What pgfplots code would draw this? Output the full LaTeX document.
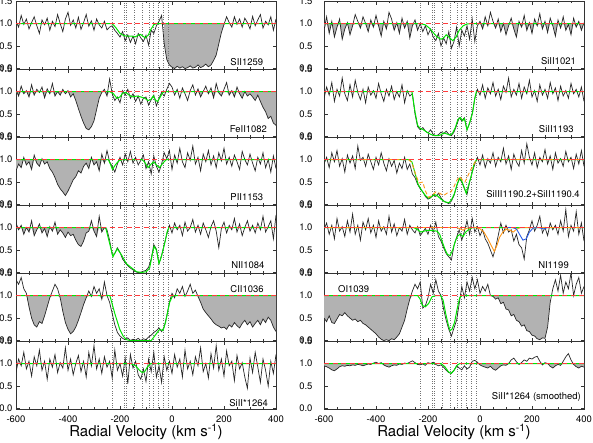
\documentclass[border=0pt]{standalone}
\usepackage{fontspec}
\setmainfont{TeX Gyre Heros}
\usepackage{pgfplots}
\pgfplotsset{compat=1.18}
\usepackage{pgfplotstable}
\usepgfplotslibrary{groupplots}
\usetikzlibrary{calc}

\definecolor{fitgreen}{RGB}{0,230,0}
\definecolor{contred}{RGB}{255,60,60}
\definecolor{fitorange}{RGB}{255,150,20}
\definecolor{fitblue}{RGB}{40,90,230}

% ---- left column spectra (velocity, normalised flux)
\pgfplotstableread[row sep=\\]{v f\\
-600 1.05\\-590 0.92\\-580 1.18\\-570 0.98\\-560 1.10\\-550 0.88\\-540 1.02\\-530 1.15\\-520 0.95\\-510 0.78\\
-500 1.08\\-490 0.97\\-480 1.12\\-470 0.85\\-460 1.05\\-450 0.93\\-440 1.20\\-430 1.00\\-420 0.82\\-410 1.10\\
-400 1.25\\-390 0.96\\-380 1.08\\-370 0.90\\-360 1.14\\-350 0.87\\-340 1.02\\-330 1.20\\-320 0.94\\-310 1.06\\
-300 0.85\\-290 1.10\\-280 0.97\\-270 0.90\\-260 1.05\\-250 0.86\\-240 0.92\\-230 0.95\\-220 0.85\\-210 0.78\\
-200 0.70\\-190 0.82\\-180 0.62\\-170 0.75\\-160 0.58\\-150 0.72\\-140 0.55\\-130 0.78\\-120 0.68\\-110 0.60\\
-100 0.74\\-90 0.52\\-80 0.85\\-70 0.78\\-60 0.95\\-50 1.05\\-40 1.18\\-30 0.55\\-20 0.20\\-10 0.08\\
0 0.03\\10 0.00\\20 0.05\\30 0.01\\40 0.04\\50 0.00\\60 0.02\\70 0.06\\80 0.01\\90 0.03\\
100 0.08\\110 0.02\\120 0.05\\130 0.10\\140 0.04\\150 0.08\\160 0.18\\170 0.30\\180 0.55\\190 0.80\\
200 0.98\\210 1.15\\220 1.02\\230 0.92\\240 1.15\\250 0.98\\260 1.10\\270 0.92\\280 1.12\\290 1.02\\
300 0.88\\310 1.16\\320 0.95\\330 1.08\\340 1.20\\350 0.90\\360 1.05\\370 0.97\\380 1.15\\390 0.85\\400 1.10\\
}\tLa
\pgfplotstableread[row sep=\\]{v f\\
-600 1.05\\-590 0.90\\-580 1.12\\-570 0.95\\-560 1.02\\-550 0.88\\-540 1.15\\-530 0.92\\-520 1.05\\-510 0.98\\
-500 1.10\\-490 0.86\\-480 1.06\\-470 0.95\\-460 1.18\\-450 0.90\\-440 1.00\\-430 0.92\\-420 1.05\\-410 0.95\\
-400 1.02\\-390 0.88\\-380 0.95\\-370 0.80\\-360 0.62\\-350 0.45\\-340 0.30\\-330 0.18\\-320 0.15\\-310 0.22\\
-300 0.35\\-290 0.60\\-280 0.85\\-270 0.98\\-260 1.05\\-250 0.90\\-240 1.28\\-230 0.95\\-220 0.80\\-210 0.88\\
-200 0.75\\-190 1.02\\-180 0.92\\-170 1.05\\-160 0.85\\-150 0.95\\-140 0.78\\-130 0.90\\-120 0.72\\-110 0.85\\
-100 0.88\\-90 0.70\\-80 0.82\\-70 0.92\\-60 0.68\\-50 0.85\\-40 0.98\\-30 0.90\\-20 1.05\\-10 1.18\\
0 1.10\\10 0.92\\20 1.05\\30 0.85\\40 1.08\\50 0.95\\60 0.80\\70 1.02\\80 1.15\\90 0.92\\
100 1.06\\110 0.88\\120 1.00\\130 1.12\\140 0.95\\150 1.08\\160 0.86\\170 1.18\\180 0.97\\190 0.90\\
200 1.05\\210 1.20\\220 0.92\\230 1.02\\240 0.88\\250 1.10\\260 0.95\\270 0.85\\280 1.00\\290 0.90\\
300 0.95\\310 0.88\\320 0.80\\330 0.92\\340 0.78\\350 0.65\\360 0.55\\370 0.40\\380 0.45\\390 0.30\\400 0.25\\
}\tLb
\pgfplotstableread[row sep=\\]{v f\\
-600 0.75\\-590 0.90\\-580 0.82\\-570 1.05\\-560 0.88\\-550 0.95\\-540 0.78\\-530 1.10\\-520 0.92\\-510 0.85\\
-500 1.02\\-490 0.90\\-480 0.95\\-470 0.80\\-460 0.72\\-450 0.60\\-440 0.45\\-430 0.35\\-420 0.28\\-410 0.20\\
-400 0.30\\-390 0.42\\-380 0.55\\-370 0.62\\-360 0.75\\-350 0.70\\-340 0.85\\-330 0.92\\-320 0.80\\-310 1.05\\
-300 0.88\\-290 0.95\\-280 0.75\\-270 1.12\\-260 0.92\\-250 1.20\\-240 0.95\\-230 0.85\\-220 0.72\\-210 0.90\\
-200 1.05\\-190 0.88\\-180 1.12\\-170 0.95\\-160 1.18\\-150 0.92\\-140 1.05\\-130 0.88\\-120 0.98\\-110 1.10\\
-100 0.80\\-90 0.95\\-80 0.68\\-70 1.08\\-60 0.85\\-50 0.72\\-40 0.90\\-30 1.15\\-20 1.02\\-10 1.20\\
0 0.78\\10 1.10\\20 0.92\\30 1.25\\40 0.95\\50 0.82\\60 1.15\\70 0.98\\80 1.30\\90 0.90\\
100 1.05\\110 0.75\\120 1.12\\130 0.95\\140 1.20\\150 0.88\\160 1.08\\170 0.82\\180 1.15\\190 0.97\\
200 1.25\\210 0.90\\220 1.05\\230 0.85\\240 1.10\\250 0.95\\260 0.78\\270 1.18\\280 1.00\\290 0.88\\
300 1.12\\310 0.92\\320 0.75\\330 1.05\\340 0.90\\350 1.15\\360 0.82\\370 1.00\\380 0.72\\390 1.08\\400 0.80\\
}\tLc
\pgfplotstableread[row sep=\\]{v f\\
-600 1.10\\-590 0.95\\-580 1.05\\-570 0.85\\-560 1.00\\-550 0.90\\-540 1.15\\-530 0.82\\-520 0.95\\-510 1.08\\
-500 0.88\\-490 0.98\\-480 0.80\\-470 1.02\\-460 0.92\\-450 1.12\\-440 0.85\\-430 0.95\\-420 0.88\\-410 0.78\\
-400 0.90\\-390 0.82\\-380 0.85\\-370 0.72\\-360 0.62\\-350 0.58\\-340 0.70\\-330 0.88\\-320 0.92\\-310 1.15\\
-300 0.92\\-290 0.80\\-280 1.25\\-270 0.90\\-260 1.00\\-250 0.95\\-240 0.72\\-230 0.40\\-220 0.42\\-210 0.55\\
-200 0.45\\-190 0.30\\-180 0.22\\-170 0.15\\-160 0.10\\-150 0.06\\-140 0.02\\-130 0.00\\-120 0.01\\-110 0.03\\
-100 0.05\\-90 0.12\\-80 0.30\\-70 0.62\\-60 0.52\\-50 0.20\\-40 0.38\\-30 0.62\\-20 0.85\\-10 1.05\\
0 0.88\\10 1.10\\20 0.95\\30 1.05\\40 0.82\\50 1.12\\60 0.92\\70 1.00\\80 1.18\\90 0.90\\
100 1.05\\110 0.85\\120 1.10\\130 0.95\\140 0.78\\150 1.02\\160 1.15\\170 0.92\\180 0.55\\190 0.98\\
200 1.12\\210 0.88\\220 1.05\\230 0.95\\240 1.20\\250 0.90\\260 1.08\\270 0.82\\280 1.00\\290 1.15\\
300 0.92\\310 1.05\\320 0.88\\330 1.10\\340 0.95\\350 1.25\\360 0.90\\370 1.02\\380 1.15\\390 0.75\\400 1.28\\
}\tLd
\pgfplotstableread[row sep=\\]{v f\\
-600 1.35\\-590 1.25\\-580 1.40\\-570 1.15\\-560 1.05\\-550 0.75\\-540 0.50\\-530 0.35\\-520 0.30\\-510 0.42\\
-500 0.38\\-490 0.55\\-480 0.75\\-470 0.95\\-460 1.10\\-450 1.25\\-440 1.15\\-430 0.95\\-420 0.65\\-410 0.40\\
-400 0.25\\-390 0.15\\-380 0.20\\-370 0.30\\-360 0.45\\-350 0.62\\-340 0.80\\-330 0.95\\-320 1.10\\-310 0.98\\
-300 1.20\\-290 1.05\\-280 1.15\\-270 0.92\\-260 1.30\\-250 1.00\\-240 0.85\\-230 0.60\\-220 0.35\\-210 0.18\\
-200 0.10\\-190 0.05\\-180 0.02\\-170 0.06\\-160 0.00\\-150 0.03\\-140 0.01\\-130 0.05\\-120 0.00\\-110 0.04\\
-100 0.02\\-90 0.08\\-80 0.12\\-70 0.18\\-60 0.22\\-50 0.28\\-40 0.20\\-30 0.30\\-20 0.55\\-10 0.85\\
0 1.05\\10 0.95\\20 1.15\\30 1.05\\40 1.20\\50 0.98\\60 1.10\\70 1.25\\80 1.05\\90 1.12\\
100 0.98\\110 0.85\\120 0.70\\130 0.62\\140 0.55\\150 0.48\\160 0.40\\170 0.35\\180 0.32\\190 0.28\\
200 0.30\\210 0.25\\220 0.35\\230 0.30\\240 0.40\\250 0.33\\260 0.28\\270 0.38\\280 0.45\\290 0.35\\
300 0.42\\310 0.30\\320 0.38\\330 0.45\\340 0.35\\350 0.48\\360 0.40\\370 0.52\\380 0.45\\390 0.30\\400 0.20\\
}\tLe
\pgfplotstableread[row sep=\\]{v f\\
-600 0.80\\-590 1.10\\-580 0.95\\-570 1.25\\-560 0.88\\-550 1.05\\-540 0.72\\-530 1.15\\-520 0.95\\-510 1.30\\
-500 0.85\\-490 1.05\\-480 0.65\\-470 1.10\\-460 0.92\\-450 1.20\\-440 0.80\\-430 1.02\\-420 0.90\\-410 1.35\\
-400 0.85\\-390 1.10\\-380 0.75\\-370 1.00\\-360 1.18\\-350 0.82\\-340 1.05\\-330 0.70\\-320 1.25\\-310 0.95\\
-300 1.40\\-290 0.88\\-280 1.10\\-270 0.78\\-260 1.15\\-250 0.92\\-240 1.05\\-230 0.68\\-220 1.30\\-210 0.85\\
-200 1.00\\-190 0.72\\-180 1.12\\-170 0.55\\-160 1.20\\-150 0.90\\-140 1.05\\-130 0.75\\-120 0.65\\-110 0.88\\
-100 0.60\\-90 1.10\\-80 0.82\\-70 1.25\\-60 0.70\\-50 0.95\\-40 0.58\\-30 1.15\\-20 0.85\\-10 1.05\\
0 0.78\\10 1.20\\20 0.92\\30 1.10\\40 0.70\\50 1.30\\60 0.88\\70 1.05\\80 0.75\\90 1.15\\
100 0.95\\110 1.35\\120 0.82\\130 1.00\\140 0.68\\150 1.22\\160 0.90\\170 1.40\\180 0.85\\190 1.10\\
200 0.72\\210 1.28\\220 0.95\\230 1.05\\240 0.62\\250 1.18\\260 0.88\\270 1.02\\280 0.70\\290 0.45\\
300 1.12\\310 0.80\\320 1.25\\330 0.92\\340 0.58\\350 1.10\\360 0.85\\370 0.50\\380 1.05\\390 0.78\\400 1.20\\
}\tLf
% ---- right column spectra
\pgfplotstableread[row sep=\\]{v f\\
-600 0.85\\-590 1.15\\-580 0.78\\-570 1.05\\-560 0.70\\-550 0.92\\-540 1.10\\-530 0.65\\-520 0.88\\-510 1.02\\
-500 0.75\\-490 0.95\\-480 1.20\\-470 1.05\\-460 0.90\\-450 1.15\\-440 1.00\\-430 0.82\\-420 1.08\\-410 0.92\\
-400 1.18\\-390 0.95\\-380 0.72\\-370 1.05\\-360 0.88\\-350 1.25\\-340 1.10\\-330 0.85\\-320 1.02\\-310 0.78\\
-300 1.12\\-290 0.90\\-280 1.05\\-270 0.68\\-260 0.95\\-250 1.08\\-240 0.85\\-230 1.00\\-220 0.82\\-210 0.95\\
-200 0.75\\-190 0.88\\-180 0.70\\-170 0.62\\-160 0.78\\-150 0.50\\-140 0.68\\-130 0.55\\-120 0.82\\-110 0.45\\
-100 0.60\\-90 0.92\\-80 0.50\\-70 0.85\\-60 0.72\\-50 0.95\\-40 0.65\\-30 1.10\\-20 0.60\\-10 0.95\\
0 1.05\\10 0.88\\20 1.15\\30 0.95\\40 1.25\\50 1.05\\60 0.90\\70 1.10\\80 0.82\\90 1.00\\
100 0.75\\110 0.95\\120 1.12\\130 0.88\\140 0.70\\150 1.05\\160 0.92\\170 1.18\\180 0.85\\190 1.02\\
200 0.78\\210 1.10\\220 0.95\\230 1.22\\240 0.88\\250 1.05\\260 0.80\\270 1.12\\280 0.95\\290 0.72\\
300 1.08\\310 0.90\\320 1.15\\330 0.85\\340 0.98\\350 0.75\\360 1.12\\370 0.92\\380 1.05\\390 0.85\\400 1.02\\
}\tRa
\pgfplotstableread[row sep=\\]{v f\\
-600 0.85\\-590 1.10\\-580 0.92\\-570 1.20\\-560 0.78\\-550 1.05\\-540 0.90\\-530 1.30\\-520 0.95\\-510 0.80\\
-500 1.15\\-490 0.88\\-480 1.25\\-470 0.98\\-460 0.82\\-450 1.05\\-440 0.75\\-430 1.10\\-420 0.92\\-410 1.02\\
-400 0.85\\-390 1.18\\-380 0.95\\-370 0.78\\-360 1.05\\-350 0.90\\-340 1.12\\-330 0.82\\-320 1.00\\-310 0.88\\
-300 1.15\\-290 0.75\\-280 1.02\\-270 0.90\\-260 0.95\\-250 0.50\\-240 0.22\\-230 0.15\\-220 0.20\\-210 0.12\\
-200 0.08\\-190 0.15\\-180 0.05\\-170 0.02\\-160 0.04\\-150 0.10\\-140 0.06\\-130 0.12\\-120 0.05\\-110 0.02\\
-100 0.10\\-90 0.25\\-80 0.42\\-70 0.35\\-60 0.42\\-50 0.15\\-40 0.30\\-30 0.50\\-20 0.85\\-10 1.05\\
0 0.92\\10 1.15\\20 0.85\\30 1.08\\40 0.95\\50 1.20\\60 0.90\\70 1.05\\80 0.82\\90 1.12\\
100 0.98\\110 1.30\\120 0.88\\130 1.05\\140 0.92\\150 1.18\\160 0.85\\170 1.10\\180 0.95\\190 1.25\\
200 0.88\\210 1.02\\220 0.78\\230 1.15\\240 0.92\\250 1.05\\260 0.85\\270 1.20\\280 0.95\\290 1.08\\
300 0.80\\310 1.12\\320 0.90\\330 1.02\\340 0.85\\350 1.18\\360 0.95\\370 1.05\\380 0.88\\390 1.10\\400 0.78\\
}\tRb
\pgfplotstableread[row sep=\\]{v f\\
-600 0.90\\-590 1.05\\-580 0.82\\-570 1.15\\-560 0.95\\-550 1.20\\-540 0.85\\-530 1.02\\-520 0.72\\-510 1.10\\
-500 0.92\\-490 1.08\\-480 0.80\\-470 1.30\\-460 0.98\\-450 1.05\\-440 0.85\\-430 1.12\\-420 0.95\\-410 0.78\\
-400 1.05\\-390 0.88\\-380 1.15\\-370 0.92\\-360 0.75\\-350 1.02\\-340 0.85\\-330 0.98\\-320 0.70\\-310 0.92\\
-300 0.80\\-290 1.05\\-280 0.78\\-270 0.90\\-260 0.68\\-250 0.60\\-240 0.45\\-230 0.35\\-220 0.28\\-210 0.18\\
-200 0.12\\-190 0.15\\-180 0.22\\-170 0.18\\-160 0.25\\-150 0.15\\-140 0.08\\-130 0.05\\-120 0.02\\-110 0.08\\
-100 0.20\\-90 0.40\\-80 0.58\\-70 0.50\\-60 0.35\\-50 0.22\\-40 0.50\\-30 0.72\\-20 0.90\\-10 1.05\\
0 0.88\\10 1.10\\20 0.82\\30 1.02\\40 0.92\\50 1.15\\60 0.85\\70 1.05\\80 0.95\\90 1.25\\
100 0.90\\110 1.08\\120 0.78\\130 1.12\\140 0.95\\150 0.85\\160 1.20\\170 0.92\\180 1.35\\190 1.05\\
200 0.88\\210 1.15\\220 0.82\\230 1.05\\240 0.95\\250 1.22\\260 0.90\\270 1.08\\280 0.78\\290 1.15\\
300 0.92\\310 1.02\\320 0.85\\330 1.18\\340 0.95\\350 1.05\\360 0.80\\370 1.12\\380 0.90\\390 1.20\\400 0.85\\
}\tRc
\pgfplotstableread[row sep=\\]{v f\\
-600 0.95\\-590 1.10\\-580 0.85\\-570 1.05\\-560 0.75\\-550 1.20\\-540 0.92\\-530 1.02\\-520 0.80\\-510 1.15\\
-500 0.90\\-490 1.30\\-480 0.85\\-470 1.05\\-460 0.72\\-450 1.12\\-440 0.95\\-430 1.20\\-420 0.88\\-410 1.05\\
-400 0.78\\-390 1.15\\-380 0.92\\-370 1.02\\-360 0.85\\-350 1.25\\-340 0.90\\-330 1.08\\-320 0.82\\-310 1.00\\
-300 0.92\\-290 1.18\\-280 0.85\\-270 1.05\\-260 0.95\\-250 0.88\\-240 1.02\\-230 0.82\\-220 0.90\\-210 0.98\\
-200 0.85\\-190 1.05\\-180 0.90\\-170 1.12\\-160 0.80\\-150 0.70\\-140 0.55\\-130 0.42\\-120 0.35\\-110 0.28\\
-100 0.60\\-90 0.78\\-80 0.95\\-70 0.72\\-60 0.92\\-50 1.15\\-40 0.85\\-30 1.20\\-20 0.90\\-10 1.02\\
0 0.82\\10 0.95\\20 0.75\\30 0.65\\40 0.50\\50 0.35\\60 0.55\\70 0.82\\80 1.10\\90 0.88\\
100 1.05\\110 0.90\\120 0.95\\130 0.70\\140 0.85\\150 0.62\\160 0.55\\170 0.30\\180 0.80\\190 0.95\\
200 1.15\\210 0.92\\220 1.05\\230 1.25\\240 0.88\\250 1.00\\260 0.82\\270 1.10\\280 0.95\\290 1.05\\
300 0.85\\310 1.15\\320 0.92\\330 1.40\\340 0.80\\350 1.05\\360 0.92\\370 1.35\\380 0.85\\390 1.10\\400 0.70\\
}\tRd
\pgfplotstableread[row sep=\\]{v f\\
-600 0.50\\-590 0.42\\-580 0.55\\-570 0.40\\-560 0.38\\-550 0.48\\-540 0.58\\-530 0.55\\-520 0.62\\-510 0.55\\
-500 0.50\\-490 0.45\\-480 0.48\\-470 0.42\\-460 0.45\\-450 0.38\\-440 0.35\\-430 0.30\\-420 0.25\\-410 0.20\\
-400 0.15\\-390 0.08\\-380 0.03\\-370 0.00\\-360 0.02\\-350 0.00\\-340 0.04\\-330 0.02\\-320 0.08\\-310 0.15\\
-300 0.30\\-290 0.45\\-280 0.70\\-270 0.92\\-260 1.10\\-250 1.25\\-240 1.15\\-230 1.30\\-220 0.72\\-210 0.78\\
-200 0.95\\-190 1.25\\-180 1.05\\-170 1.35\\-160 1.10\\-150 1.00\\-140 0.70\\-130 0.45\\-120 0.25\\-110 0.10\\
-100 0.28\\-90 0.45\\-80 0.82\\-70 1.20\\-60 0.95\\-50 1.30\\-40 1.10\\-30 1.40\\-20 1.15\\-10 1.35\\
0 1.05\\10 1.20\\20 1.10\\30 1.25\\40 1.00\\50 0.98\\60 0.92\\70 0.95\\80 0.82\\90 0.85\\
100 0.70\\110 0.68\\120 0.55\\130 0.58\\140 0.45\\150 0.42\\160 0.32\\170 0.35\\180 0.22\\190 0.20\\
200 0.12\\210 0.10\\220 0.04\\230 0.02\\240 0.06\\250 0.05\\260 0.30\\270 0.85\\280 1.15\\290 1.35\\
300 1.10\\310 1.45\\320 1.05\\330 1.30\\340 1.15\\350 1.50\\360 1.00\\370 1.25\\380 1.40\\390 1.05\\400 1.20\\
}\tRe
\pgfplotstableread[row sep=\\]{v f\\
-600 0.95\\-590 0.93\\-580 0.90\\-570 0.86\\-560 0.84\\-550 0.88\\-540 0.93\\-530 0.95\\-520 0.94\\-510 0.96\\
-500 0.95\\-490 0.97\\-480 0.96\\-470 0.98\\-460 0.97\\-450 0.95\\-440 0.97\\-430 0.99\\-420 0.98\\-410 1.01\\
-400 1.03\\-390 1.00\\-380 1.02\\-370 0.97\\-360 0.94\\-350 0.92\\-340 0.95\\-330 0.97\\-320 0.96\\-310 0.99\\
-300 0.98\\-290 1.01\\-280 1.00\\-270 1.03\\-260 1.06\\-250 1.02\\-240 0.98\\-230 0.97\\-220 0.99\\-210 0.96\\
-200 1.02\\-190 1.00\\-180 1.03\\-170 0.98\\-160 0.95\\-150 0.97\\-140 0.92\\-130 0.85\\-120 0.80\\-110 0.78\\
-100 0.85\\-90 0.95\\-80 0.90\\-70 0.86\\-60 0.95\\-50 0.88\\-40 0.92\\-30 1.05\\-20 1.07\\-10 1.03\\
0 0.97\\10 0.94\\20 0.92\\30 0.90\\40 0.94\\50 0.88\\60 0.85\\70 0.90\\80 0.95\\90 0.97\\
100 0.96\\110 1.00\\120 1.08\\130 1.12\\140 1.04\\150 0.98\\160 1.02\\170 1.08\\180 1.05\\190 1.12\\
200 1.10\\210 1.14\\220 1.16\\230 1.05\\240 0.97\\250 1.02\\260 1.00\\270 0.94\\280 0.90\\290 0.95\\
300 0.98\\310 0.96\\320 1.05\\330 1.15\\340 1.22\\350 1.08\\360 0.98\\370 0.93\\380 0.90\\390 0.94\\400 0.92\\
}\tRf

\pgfplotsset{
  sspec/.style={color=black!85, line width=0.7pt, forget plot},
  smodel/.style={color=fitgreen, line width=1pt, forget plot},
  svdot/.style={color=black!55, line width=0.4pt, dash pattern=on 0.6bp off 1.8bp, forget plot},
  sgfill/.style={fill=black!30, draw=none, forget plot},
}
\tikzset{lab/.style={font=\fontsize{9.5}{11}\selectfont, inner sep=1pt}}

% fitted component velocities (dotted lines)
\newcommand{\vlines}{\pgfplotsinvokeforeach{-229,-182,-176,-146,-113,-86,-73,-53,-33,-16}{%
  \addplot[svdot] coordinates {(##1,-0.2) (##1,1.7)};}}
% continuum (red dashed, unit flux)
\newcommand{\cont}{%
  \addplot[color=contred, line width=1.25pt, dash pattern=on 5bp off 3.5bp, forget plot] coordinates {(-600,1) (400,1)};}
% grey fill between the flux (capped at 1) and the continuum, over [#2,#3]
\newcommand{\gfill}[3]{%
  \addplot[sgfill, restrict x to domain=#2:#3] table[x=v, y expr={min(\thisrow{f},1)}]{#1}
     -- (axis cs:#3,1) -- (axis cs:#2,1) -- cycle;}

\begin{document}
\begin{tikzpicture}
\begin{groupplot}[
  group style={group name=G, group size=2 by 6, horizontal sep=48bp, vertical sep=0pt,
               xticklabels at=edge bottom, xlabels at=edge bottom},
  width=260bp, height=68bp, scale only axis,
  xmin=-600, xmax=400, ymin=-0.01, ymax=1.5,
  xtick={-600,-400,-200,0,200,400}, xticklabels={-600,-400,-200,0,200,400},
  minor x tick num=3,
  ytick={0,0.5,1,1.5}, yticklabels={0.0,0.5,1.0,1.5},
  tick align=inside, tick pos=both,
  major tick length=3.5bp, minor tick length=2bp,
  axis line style={black!80, line width=0.7pt},
  tick style={black!80, line width=0.5pt},
  tick label style={font=\fontsize{9.5}{11}\selectfont},
  xticklabel style={yshift=-3pt},
  xlabel style={at={(axis description cs:0.5,0)}, anchor=north, yshift=-14.5bp,
                inner sep=0pt, font=\fontsize{15}{16}\selectfont},
]
% ---------- row 1
\nextgroupplot
\gfill{\tLa}{-30}{210}
\vlines
\addplot[sspec] table[x=v,y=f]{\tLa};
\addplot[smodel] coordinates {(-600,1)(-230,1)(-215,0.9)(-200,0.78)(-185,0.73)(-170,0.72)(-155,0.72)(-143,0.70)(-130,0.74)(-122,0.76)(-112,0.72)(-103,0.68)(-92,0.74)(-80,0.88)(-70,0.97)(-60,1)(400,1)};
\cont
\node[lab, anchor=south east] at (rel axis cs:0.955,0.03) {SII1259};

\nextgroupplot[yticklabel style={xshift=-8bp}]
\gfill{\tRa}{-600}{-240}
\gfill{\tRa}{0}{400}
\vlines
\addplot[sspec] table[x=v,y=f]{\tRa};
\addplot[smodel] coordinates {(-600,1)(-230,1)(-210,0.97)(-195,0.90)(-180,0.80)(-165,0.70)(-150,0.65)(-140,0.68)(-130,0.75)(-120,0.70)(-105,0.62)(-92,0.70)(-80,0.85)(-65,0.95)(-50,0.99)(-30,1)(400,1)};
\cont
\node[lab, anchor=south east] at (rel axis cs:0.973,0.05) {SiII1021};

% ---------- row 2
\nextgroupplot
\gfill{\tLb}{-600}{-240}
\gfill{\tLb}{100}{400}
\vlines
\addplot[sspec] table[x=v,y=f]{\tLb};
\addplot[smodel] coordinates {(-600,1)(-240,1)(-225,0.95)(-212,0.85)(-200,0.88)(-190,0.96)(-178,0.98)(-165,0.92)(-150,0.88)(-135,0.90)(-120,0.88)(-105,0.85)(-92,0.80)(-82,0.82)(-72,0.90)(-62,0.80)(-55,0.78)(-45,0.88)(-35,0.98)(-25,1)(30,1)(40,0.99)(80,1)(400,1)};
\cont
\node[lab, anchor=south east] at (rel axis cs:0.97,0.05) {FeII1082};

\nextgroupplot[yticklabel style={xshift=-8bp}]
\vlines
\addplot[sspec] table[x=v,y=f]{\tRb};
\addplot[smodel] coordinates {(-600,1)(-262,1)(-250,0.55)(-240,0.25)(-230,0.18)(-220,0.16)(-205,0.10)(-190,0.05)(-175,0.02)(-160,0.02)(-150,0.04)(-140,0.08)(-128,0.06)(-115,0.03)(-105,0.08)(-95,0.2)(-85,0.38)(-75,0.42)(-67,0.35)(-60,0.40)(-50,0.15)(-40,0.30)(-28,0.55)(-20,0.85)(-14,1)(400,1)};
\cont
\node[lab, anchor=south east] at (rel axis cs:0.965,0.05) {SiII1193};

% ---------- row 3
\nextgroupplot
\gfill{\tLc}{-600}{-250}
\vlines
\addplot[sspec] table[x=v,y=f]{\tLc};
\addplot[smodel] coordinates {(-600,1)(-245,1)(-237,0.9)(-229,0.78)(-218,0.88)(-205,0.97)(-190,1)(-115,1)(-105,0.94)(-92,0.82)(-80,0.90)(-70,0.95)(-60,0.88)(-48,0.82)(-35,0.92)(-22,1)(400,1)};
\cont
\node[lab, anchor=south east] at (rel axis cs:0.955,0.04) {PII1153};

\nextgroupplot[yticklabel style={xshift=-8bp}]
\vlines
\addplot[sspec] table[x=v,y=f]{\tRc};
\addplot[smodel] coordinates {(-600,1)(-275,1)(-262,0.95)(-250,0.70)(-238,0.45)(-225,0.32)(-210,0.20)(-198,0.14)(-185,0.18)(-175,0.22)(-165,0.20)(-150,0.12)(-135,0.06)(-120,0.04)(-110,0.10)(-98,0.25)(-88,0.45)(-78,0.58)(-70,0.52)(-62,0.40)(-53,0.25)(-43,0.45)(-33,0.65)(-22,0.92)(-12,1)(400,1)};
\addplot[color=fitorange, line width=0.9pt, dash pattern=on 4bp off 2.5bp, forget plot] coordinates {(-600,1)(-275,1)(-262,0.93)(-248,0.68)(-235,0.48)(-220,0.50)(-210,0.30)(-198,0.16)(-185,0.20)(-170,0.28)(-155,0.25)(-140,0.20)(-125,0.26)(-112,0.28)(-100,0.40)(-88,0.55)(-78,0.62)(-68,0.55)(-58,0.50)(-48,0.62)(-38,0.75)(-28,0.85)(-18,0.95)(-8,1)(400,1)};
\cont
\node[lab, anchor=south east] at (rel axis cs:0.988,0.09) {SiIII1190.2+SiII1190.4};

% ---------- row 4
\nextgroupplot
\gfill{\tLd}{-600}{-250}
\vlines
\addplot[sspec] table[x=v,y=f]{\tLd};
\addplot[smodel] coordinates {(-600,1)(-255,1)(-240,0.65)(-227,0.35)(-211,0.53)(-195,0.40)(-176,0.20)(-150,0.08)(-137,0.02)(-118,0.0)(-99,0.02)(-86,0.10)(-76,0.40)(-69,0.58)(-60,0.50)(-50,0.20)(-41,0.35)(-28,0.65)(-19,0.90)(-12,1)(400,1)};
\cont
\node[lab, anchor=south east] at (rel axis cs:0.96,0.04) {NII1084};

\nextgroupplot[yticklabel style={xshift=-8bp}]
\vlines
\addplot[sspec] table[x=v,y=f]{\tRd};
\addplot[smodel] coordinates {(-600,1)(-255,1)(-240,0.95)(-228,0.90)(-215,0.92)(-200,0.94)(-180,0.93)(-165,0.92)(-155,0.85)(-145,0.68)(-135,0.52)(-125,0.40)(-115,0.38)(-105,0.50)(-95,0.70)(-85,0.82)(-75,0.85)(-65,0.80)(-55,0.90)(-40,0.97)(-28,1)(400,1)};
\addplot[color=fitorange, line width=0.9pt, forget plot] coordinates {(-600,1)(-90,1)(-75,0.97)(-65,0.94)(-55,0.98)(-30,1)(-15,1)(0,0.97)(15,0.90)(30,0.75)(45,0.58)(55,0.47)(65,0.60)(75,0.78)(88,0.90)(100,0.96)(115,0.94)(128,0.90)(140,0.96)(155,1)(400,1)};
\addplot[color=fitblue, line width=0.9pt, forget plot] coordinates {(100,1)(125,1)(140,0.97)(152,0.85)(165,0.72)(178,0.75)(190,0.90)(205,0.99)(225,1)(245,0.97)(260,1)};
\cont
\node[lab, anchor=south east] at (rel axis cs:0.946,0.05) {NI1199};

% ---------- row 5
\nextgroupplot
\gfill{\tLe}{-600}{-250}
\gfill{\tLe}{100}{400}
\vlines
\addplot[sspec] table[x=v,y=f]{\tLe};
\addplot[smodel] coordinates {(-600,1)(-239,1)(-220,0.60)(-201,0.25)(-188,0.10)(-175,0.02)(-160,0)(-80,0)(-67,0.10)(-54,0.20)(-47,0.25)(-35,0.22)(-25,0.40)(-9,0.85)(3,1)(400,1)};
\cont
\node[lab, anchor=north east] at (rel axis cs:0.957,0.83) {CII1036};

\nextgroupplot[yticklabel style={xshift=-8bp}]
\gfill{\tRe}{-600}{-260}
\gfill{\tRe}{40}{270}
\vlines
\addplot[sspec] table[x=v,y=f]{\tRe};
\addplot[smodel] coordinates {(-600,1)(-240,1)(-230,0.92)(-222,0.78)(-210,0.75)(-198,0.82)(-185,0.97)(-170,1)(-152,1)(-142,0.9)(-132,0.6)(-122,0.35)(-115,0.22)(-108,0.25)(-98,0.40)(-88,0.70)(-78,0.95)(-70,1)(400,1)};
\cont
\node[lab, anchor=north west] at (rel axis cs:0.05,0.83) {OI1039};

% ---------- row 6
\nextgroupplot[xlabel={Radial Velocity (km s\textsuperscript{-1})}]
\vlines
\addplot[sspec] table[x=v,y=f]{\tLf};
\addplot[smodel] coordinates {(-600,1)(-160,1)(-140,0.95)(-125,0.85)(-115,0.80)(-105,0.82)(-95,0.92)(-82,1)(400,1)};
\cont
\node[lab, anchor=south east] at (rel axis cs:0.973,0.02) {SiII*1264};

\nextgroupplot[yticklabel style={xshift=-8bp}, xlabel={Radial Velocity (km s\textsuperscript{-1})}]
\gfill{\tRf}{-600}{-230}
\gfill{\tRf}{-20}{400}
\vlines
\addplot[sspec] table[x=v,y=f]{\tRf};
\addplot[smodel] coordinates {(-600,1)(-150,1)(-135,0.93)(-122,0.82)(-112,0.78)(-100,0.85)(-88,0.96)(-78,1)(400,1)};
\cont
\node[lab, anchor=south east] at (rel axis cs:0.992,0.09) {SiII*1264 (smoothed)};
\end{groupplot}
\pgfresetboundingbox
\path ($(G c1r1.north west)+(-16bp,1bp)$) rectangle ($(G c2r6.south east)+(9bp,-33bp)$);
\end{tikzpicture}
\end{document}
